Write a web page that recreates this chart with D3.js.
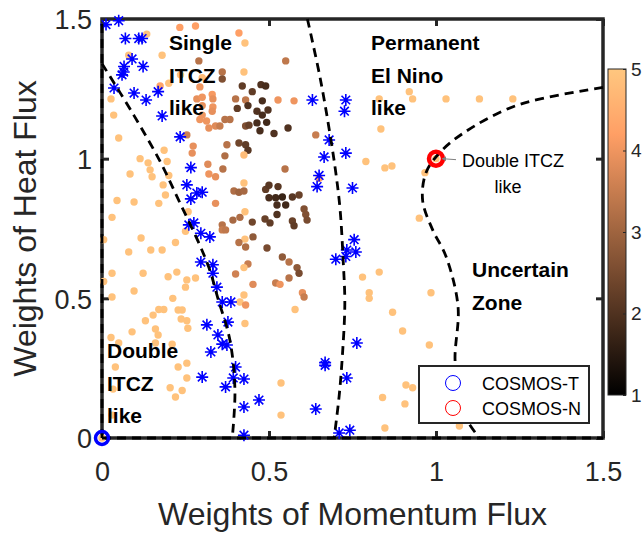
<!DOCTYPE html>
<html>
<head>
<meta charset="utf-8">
<script src="https://cdn.jsdelivr.net/npm/d3@7"></script>
<style>
  body { margin: 0; background: #fff; }
  svg { display: block; font-family: "Liberation Sans", Arial, Helvetica, sans-serif; }
</style>
</head>
<body>
<svg id="chart" width="644" height="533"></svg>
<script>
// perturbed runs: [weight of momentum flux, weight of heat flux, colour index]
const ensembleRuns = [
  [0.233,1.47,4.2],[0.28,1.475,4.2],[0.134,1.446,4.9],[0.41,1.45,4.2],[0.428,1.414,4.9],[0.18,1.37,4.9],
  [0.08,1.37,4.9],[0.29,1.35,3.3],[0.55,1.35,3.4],[0.36,1.31,3.3],[0.425,1.31,4.9],[0.36,1.285,2.6],
  [0.30,1.29,4.8],[0.235,1.30,4.9],[0.2,1.27,4.9],[0.174,1.26,4.3],[0.293,1.257,4.0],[0.33,1.23,4.1],
  [0.42,1.26,2.2],[0.45,1.24,2.2],[0.476,1.265,2.0],[0.49,1.26,1.9],[0.48,1.207,1.9],[0.527,1.21,4.0],
  [0.575,1.207,4.0],[0.027,1.214,4.9],[0.284,1.214,3.9],[0.30,1.22,4.0],[0.332,1.214,3.9],[0.30,1.19,3.9],
  [0.332,1.185,4.0],[0.40,1.214,3.3],[0.43,1.21,3.4],[0.405,1.18,2.2],[0.437,1.19,2.0],[0.464,1.17,2.0],
  [0.48,1.156,1.9],[0.497,1.174,2.0],[0.464,1.128,1.9],[0.493,1.13,1.8],[0.43,1.117,2.6],[0.44,1.12,2.3],
  [0.473,1.10,1.9],[0.515,1.09,2.0],[0.557,1.11,2.0],[0.035,1.156,4.9],[0.05,1.074,4.9],[0.30,1.156,4.0],
  [0.33,1.17,3.9],[0.293,1.14,4.0],[0.313,1.135,4.0],[0.34,1.117,3.8],[0.32,1.11,3.9],[0.353,1.117,3.5],
  [0.368,1.14,3.3],[0.383,1.14,3.3],[0.254,1.085,3.6],[0.186,1.03,4.9],[0.273,1.045,3.9],[0.27,1.02,3.9],
  [0.374,1.05,3.3],[0.41,1.056,2.4],[0.43,1.05,2.2],[0.437,1.03,2.1],[0.425,1.013,4.8],[0.368,1.01,3.2],
  [0.317,0.98,3.8],[0.64,1.085,3.5],[0.114,1.0,4.9],[0.138,0.985,4.9],[0.195,0.99,4.9],[0.183,0.906,4.9],
  [0.144,0.96,4.9],[0.15,0.935,4.9],[0.2,0.94,4.9],[0.084,0.945,4.9],[0.32,0.945,4.0],[0.34,0.935,3.9],
  [0.362,0.963,3.3],[0.548,0.963,3.3],[0.425,0.913,4.9],[0.395,0.884,3.2],[0.41,0.88,3.0],[0.425,0.884,3.1],
  [0.49,0.89,2.2],[0.50,0.905,2.1],[0.527,0.90,2.1],[0.50,0.86,1.9],[0.52,0.86,1.8],[0.54,0.863,1.7],
  [0.524,0.834,1.9],[0.55,0.834,1.8],[0.57,0.863,2.1],[0.59,0.87,2.3],[0.524,0.80,2.0],[0.605,0.82,2.6],
  [0.61,0.80,2.6],[0.614,0.78,2.5],[0.57,0.777,2.3],[0.575,0.76,2.2],[0.488,0.784,2.3],[0.503,0.77,2.2],
  [0.45,0.773,2.4],[0.392,0.78,3.1],[0.413,0.79,3.2],[0.428,0.81,4.9],[0.36,0.763,3.3],[0.36,0.745,3.5],
  [0.37,0.745,3.4],[0.34,0.84,3.9],[0.258,0.81,4.9],[0.25,0.74,4.9],[0.19,0.87,4.9],[0.17,0.84,4.9],
  [0.096,0.845,4.9],[0.045,0.85,4.9],[0.03,0.79,4.9],[0.005,0.71,4.9],[0.117,0.716,4.9],[0.08,0.666,4.9],
  [0.146,0.673,4.9],[0.18,0.673,4.9],[0.22,0.70,4.9],[0.03,0.59,4.9],[0.005,0.56,4.9],[0.123,0.59,4.9],
  [0.198,0.577,4.9],[0.224,0.594,4.9],[0.254,0.566,4.9],[0.28,0.573,4.9],[0.25,0.54,4.9],[0.03,0.505,4.9],
  [0.096,0.526,4.9],[0.212,0.50,4.9],[0.428,0.712,4.9],[0.41,0.70,3.3],[0.43,0.684,3.2],[0.452,0.72,2.8],
  [0.494,0.68,2.5],[0.54,0.648,2.8],[0.56,0.63,3.3],[0.584,0.61,2.8],[0.59,0.59,2.5],[0.56,0.573,3.3],
  [0.437,0.623,3.5],[0.425,0.61,4.9],[0.40,0.587,3.6],[0.452,0.55,3.8],[0.52,0.555,3.5],[0.533,0.55,4.0],
  [0.6,0.52,3.9],[0.605,0.505,3.5],[0.425,0.512,4.9],[0.413,0.487,4.9],[0.43,0.476,4.0],[0.578,0.46,4.9],
  [0.153,0.44,4.9],[0.17,0.46,4.9],[0.185,0.46,4.9],[0.228,0.458,4.9],[0.24,0.458,4.9],[0.13,0.42,4.9],
  [0.237,0.426,4.9],[0.254,0.42,4.9],[0.257,0.393,4.9],[0.16,0.39,4.9],[0.168,0.369,4.9],[0.09,0.38,4.9],
  [0.027,0.36,4.9],[0.05,0.34,4.9],[0.16,0.34,4.9],[0.21,0.336,4.9],[0.428,0.41,4.9],[0.254,0.268,4.9],
  [0.228,0.254,4.9],[0.04,0.254,4.9],[0.254,0.215,4.9],[0.204,0.18,4.9],[0.24,0.17,4.9],[0.22,0.147,4.9],
  [0.033,0.175,4.9],[0.536,0.197,4.9],[0.536,0.082,4.9],[0.03,0.082,4.9],
  [0.78,0.576,4.9],[0.83,0.594,4.9],[0.80,0.52,4.9],[0.80,0.50,4.9],[0.985,0.52,4.9],[0.87,0.45,4.9],
  [0.90,0.383,4.9],[0.98,0.333,4.9],[0.91,0.19,4.9],[0.93,0.18,4.9],[0.84,0.145,4.9],[0.907,0.122,4.9],
  [0.847,0.036,4.9],[1.07,0.043,4.9],[0.83,1.214,4.9],[0.92,1.24,4.9],[0.93,1.214,4.9],[1.03,1.214,4.9],
  [1.13,1.214,4.9],[1.23,1.214,4.9],[0.835,1.106,4.9],[0.79,0.99,4.9],[0.847,0.967,4.9],[0.868,0.974,4.9],
  [1.0,1.0,4.9],[0.967,0.95,4.9],[0.95,0.787,4.9],[0.65,0.93,4.2],[0,0,4.9]
]

// runs marked with blue asterisks: [momentum, heat]
const starRuns = [
  [0.012,1.48],[0.05,1.494],[0.07,1.43],[0.11,1.43],[0.12,1.43],[0.09,1.357],[0.066,1.33],[0.065,1.31],
  [0.06,1.30],[0.123,1.33],[0.036,1.253],[0.096,1.235],[0.132,1.21],[0.168,1.24],[0.18,1.153],[0.234,1.078],
  [0.63,1.21],[0.73,1.21],[0.726,1.17],[0.68,1.067],[0.73,1.02],[0.665,1.006],[0.266,0.968],
  [0.254,0.906],[0.284,0.877],[0.30,0.88],[0.266,0.856],[0.26,0.763],[0.275,0.77],[0.296,0.733],
  [0.323,0.72],[0.296,0.63],[0.332,0.62],[0.332,0.59],[0.344,0.54],[0.36,0.487],[0.386,0.487],
  [0.65,0.94],[0.644,0.90],[0.75,0.895],[0.755,0.71],[0.733,0.673],[0.76,0.666],[0.73,0.65],[0.70,0.64],
  [0.314,0.405],[0.377,0.415],[0.347,0.369],[0.36,0.336],[0.374,0.333],[0.326,0.308],[0.40,0.254],
  [0.393,0.215],[0.425,0.211],[0.30,0.218],[0.37,0.183],[0.47,0.136],[0.425,0.111],[0.425,0.01],
  [0.64,0.104],[0.668,0.27],[0.668,0.26],[0.733,0.215],[0.763,0.34],[0.71,0.018],[0.742,0.028]
]

// reference models
const cosmosT = [[0, 0]]
const cosmosN = [[1, 1]]

// regime boundaries (dashed)
const leftBoundary = [[0,1.34],[0.093,1.16],[0.174,0.99],[0.234,0.84],[0.293,0.69],[0.323,0.60],[0.347,0.50],[0.383,0.35],[0.398,0.17],[0.39,0]]
const middleBoundary = [[0.615,1.5],[0.653,1.29],[0.683,1.085],[0.70,0.95],[0.713,0.816],[0.722,0.637],[0.727,0.48],[0.72,0.3],[0.71,0.15],[0.695,0]]
const rightBoundary = [[1.5,1.255],[1.24,1.19],[1.08,1.09],[1.01,1.02],[0.97,0.95],[0.96,0.85],[0.99,0.745],[1.03,0.65],[1.066,0.47],[1.057,0.28],[1.07,0.15],[1.09,0.07],[1.13,0]]
const bottomBoundary = [[0,0],[1.5,0]]
const sideBoundary = [[0,0],[0,1.5]]

const axisTicks = [0, 0.5, 1, 1.5]
const colorTicks = [1, 2, 3, 4, 5]

const axisColor = '#262626'

var svg = d3.select('#chart')

var x = d3.scaleLinear().domain([0, 1.5]).range([102, 603])
var y = d3.scaleLinear().domain([0, 1.5]).range([438, 19])
var c = d3.scaleLinear().domain([1, 5]).range([395, 69])

// matlab copper colormap
function copper(v) {
  var t = Math.max(0, Math.min(1, (v - 1) / 4))
  return d3.rgb(255 * Math.min(1, 1.25 * t), 255 * 0.7812 * t, 255 * 0.4975 * t).formatHex()
}

// axes box
svg.append('rect')
  .attr('x', x(0)).attr('y', y(1.5))
  .attr('width', x(1.5) - x(0)).attr('height', y(0) - y(1.5))
  .attr('fill', 'none').attr('stroke', axisColor).attr('stroke-width', 3.5)

function styleAxis(g, fontSize) {
  g.select('.domain').remove()
  g.selectAll('.tick line').attr('stroke', axisColor).attr('stroke-width', 3)
  g.selectAll('.tick text').attr('fill', axisColor).attr('font-size', fontSize)
    .attr('font-family', '"Liberation Sans", Arial, sans-serif')
}

svg.append('g').attr('transform', `translate(0,${y(0)})`)
  .call(d3.axisBottom(x).tickValues(axisTicks).tickSizeInner(-7).tickSizeOuter(0).tickPadding(24).tickFormat(d3.format('')))
  .call(g => styleAxis(g, 27))
svg.append('g').attr('transform', `translate(0,${y(1.5)})`)
  .call(d3.axisTop(x).tickValues(axisTicks).tickSizeInner(-7).tickSizeOuter(0).tickFormat(''))
  .call(g => styleAxis(g, 27))
svg.append('g').attr('transform', `translate(${x(0)},0)`)
  .call(d3.axisLeft(y).tickValues(axisTicks).tickSizeInner(-7).tickSizeOuter(0).tickPadding(10).tickFormat(d3.format('')))
  .call(g => styleAxis(g, 27))
  .call(g => g.selectAll('.tick text').attr('dy', '0.36em'))
svg.append('g').attr('transform', `translate(${x(1.5)},0)`)
  .call(d3.axisRight(y).tickValues(axisTicks).tickSizeInner(-7).tickSizeOuter(0).tickFormat(''))
  .call(g => styleAxis(g, 27))

// axis titles
svg.append('text')
  .attr('x', (x(0) + x(1.5)) / 2).attr('y', 525)
  .attr('text-anchor', 'middle').attr('font-size', 32).attr('fill', axisColor)
  .text('Weights of Momentum Flux')
svg.append('text')
  .attr('transform', `translate(36,${(y(0) + y(1.5)) / 2}) rotate(-90)`)
  .attr('text-anchor', 'middle').attr('font-size', 32).attr('fill', axisColor)
  .text('Weights of Heat Flux')

// scatter of runs
svg.append('g').selectAll('circle')
  .data(ensembleRuns)
  .enter().append('circle')
  .attr('cx', d => x(d[0]))
  .attr('cy', d => y(d[1]))
  .attr('r', 3.7)
  .attr('fill', d => copper(d[2]))

// asterisks
var star = 'M0,-6L0,6M-6,0L6,0M-4.3,-4.3L4.3,4.3M-4.3,4.3L4.3,-4.3'
svg.append('g').selectAll('path')
  .data(starRuns)
  .enter().append('path')
  .attr('transform', d => `translate(${x(d[0])},${y(d[1])})`)
  .attr('d', star)
  .attr('stroke', '#0000ff').attr('stroke-width', 1.6).attr('fill', 'none')

// dashed regime boundaries
var curve = d3.line().x(d => x(d[0])).y(d => y(d[1])).curve(d3.curveCatmullRom)
svg.append('g').selectAll('path')
  .data([leftBoundary, middleBoundary, rightBoundary, bottomBoundary, sideBoundary])
  .enter().append('path')
  .attr('d', curve)
  .attr('fill', 'none').attr('stroke', '#000').attr('stroke-width', 2.8)
  .attr('stroke-dasharray', '9,6')

// reference models
svg.append('g').selectAll('circle')
  .data(cosmosT)
  .enter().append('circle')
  .attr('cx', d => x(d[0])).attr('cy', d => y(d[1])).attr('r', 6.5)
  .attr('fill', 'none').attr('stroke', '#0000ff').attr('stroke-width', 3.5)
svg.append('g').selectAll('circle')
  .data(cosmosN)
  .enter().append('circle')
  .attr('cx', d => x(d[0])).attr('cy', d => y(d[1])).attr('r', 7)
  .attr('fill', 'none').attr('stroke', '#ff0000').attr('stroke-width', 4.5)

// regime labels
function block(lines, left, top) {
  var t = svg.append('text').attr('font-size', 21).attr('font-weight', 'bold').attr('fill', '#000')
  lines.forEach((s, i) => {
    t.append('tspan').attr('x', left).attr('y', top + i * 32.5).text(s)
  })
}
block(['Single', 'ITCZ', 'like'], 169, 50)
block(['Permanent', 'El Nino', 'like'], 371, 50)
block(['Uncertain', 'Zone'], 472, 277)
block(['Double', 'ITCZ', 'like'], 107, 358)

// annotation for the cosmos-n point
svg.append('line')
  .attr('x1', 456).attr('y1', y(1) + 1)
  .attr('x2', x(1) + 6).attr('y2', y(1))
  .attr('stroke', '#808080').attr('stroke-width', 1)
svg.append('path')
  .attr('d', `M${x(1) + 6},${y(1)}l4,-2.5l0,5z`)
  .attr('fill', '#808080')
svg.append('text').attr('x', 462).attr('y', 167).attr('font-size', 18).attr('fill', '#000').text('Double ITCZ')
svg.append('text').attr('x', 508).attr('y', 193).attr('font-size', 18).attr('text-anchor', 'middle').attr('fill', '#000').text('like')

// legend
var legend = svg.append('g')
legend.append('rect')
  .attr('x', 419).attr('y', 366).attr('width', 170).attr('height', 57)
  .attr('fill', '#fff').attr('stroke', axisColor).attr('stroke-width', 2)
var legendItems = [['COSMOS-T', '#0000ff'], ['COSMOS-N', '#ff0000']]
legendItems.forEach((item, i) => {
  legend.append('circle').attr('cx', 453).attr('cy', 383 + i * 25).attr('r', 7.5)
    .attr('fill', 'none').attr('stroke', item[1]).attr('stroke-width', 1)
  legend.append('text').attr('x', 482).attr('y', 389.5 + i * 25)
    .attr('font-size', 18).attr('fill', '#000').text(item[0])
})

// colorbar
var defs = svg.append('defs')
var grad = defs.append('linearGradient').attr('id', 'copper')
  .attr('x1', 0).attr('y1', 1).attr('x2', 0).attr('y2', 0)
d3.range(0, 1.0001, 0.05).forEach(t => {
  grad.append('stop').attr('offset', t).attr('stop-color', copper(1 + 4 * t))
})
svg.append('rect')
  .attr('x', 608).attr('y', c(5)).attr('width', 18).attr('height', c(1) - c(5))
  .attr('fill', 'url(#copper)').attr('stroke', axisColor).attr('stroke-width', 1)
svg.append('g').attr('transform', 'translate(626,0)')
  .call(d3.axisRight(c).tickValues(colorTicks).tickSizeInner(-3).tickSizeOuter(0).tickPadding(5).tickFormat(d3.format('d')))
  .call(g => {
    g.select('.domain').remove()
    g.selectAll('.tick line').attr('stroke', axisColor).attr('stroke-width', 1)
    g.selectAll('.tick text').attr('fill', axisColor).attr('font-size', 19)
      .attr('font-family', '"Liberation Sans", Arial, sans-serif')
  })
</script>
</body>
</html>
